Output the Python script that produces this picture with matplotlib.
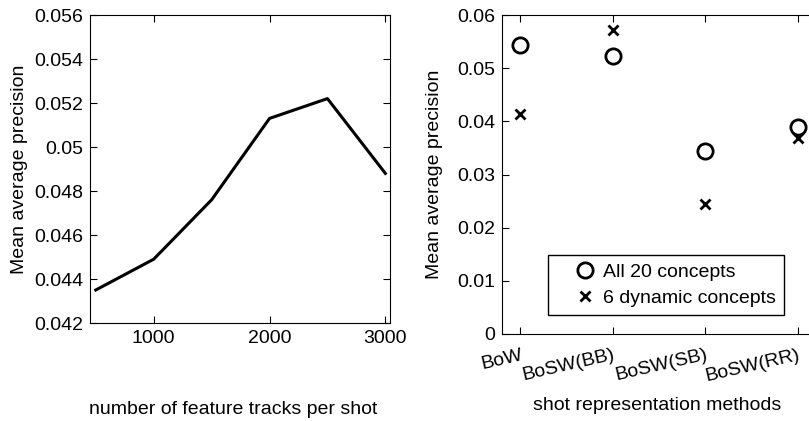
import matplotlib
matplotlib.use("Agg")
import matplotlib.pyplot as plt
from matplotlib.legend_handler import HandlerLine2D

plt.rcParams['font.family'] = ['Liberation Sans', 'DejaVu Sans']

tracks = [500, 1000, 1500, 2000, 2500, 3000]
map_tracks = [0.0435, 0.0449, 0.0476, 0.0513, 0.0522, 0.0488]

methods = ['BoW', 'BoSW(BB)', 'BoSW(SB)', 'BoSW(RR)']
all20 = [0.0543, 0.0522, 0.0345, 0.0389]
dyn6 = [0.0413, 0.0572, 0.0244, 0.0369]

W, H = 809, 421
fig = plt.figure(figsize=(W/100, H/100), dpi=100)

def ax_rect(l, r, t, b):
    return [l/W, 1 - b/H, (r - l)/W, (b - t)/H]


class RightMarker(HandlerLine2D):
    """Legend handler that places the marker near the right of the handle box."""
    def create_artists(self, legend, orig_handle, xdescent, ydescent, width,
                       height, fontsize, trans):
        arts = super().create_artists(legend, orig_handle, xdescent, ydescent,
                                      width, height, fontsize, trans)
        for a in arts:
            yd = a.get_ydata()
            a.set_xdata([width - 5 - xdescent] * len(yd))
        return arts


fs = 14
ax1 = fig.add_axes(ax_rect(90, 390, 15, 323))
ax1.plot(tracks, map_tracks, color='black', lw=2.2)
ax1.set_xlim(450, 3040)
ax1.set_ylim(0.042, 0.056)
ax1.set_xticks([1000, 2000, 3000])
ax1.set_yticks([0.042, 0.044, 0.046, 0.048, 0.05, 0.052, 0.054, 0.056])
ax1.set_yticklabels(['0.042', '0.044', '0.046', '0.048', '0.05', '0.052', '0.054', '0.056'])
ax1.tick_params(direction='in', top=True, right=True, labelsize=fs, length=5, pad=5)
ax1.set_ylabel('Mean average precision', fontsize=fs)
ax1.yaxis.set_label_coords((28 - 90)/300, 0.5)
fig.text(233/W, 1 - 410/H, 'number of feature tracks per shot', ha='center', va='center', fontsize=fs)

ax2 = fig.add_axes(ax_rect(502, 816, 15, 334))
xs = list(range(1, len(methods) + 1))
h1, = ax2.plot(xs, all20, linestyle='none', marker='o', markersize=11, markerfacecolor='none',
               markeredgecolor='black', markeredgewidth=2, label='All 20 concepts')
h2, = ax2.plot(xs, dyn6, linestyle='none', marker='x', markersize=7,
               markeredgecolor='black', markeredgewidth=2, label='6 dynamic concepts')
ax2.set_xlim(0.8, 4.2)
ax2.set_ylim(0, 0.06)
ax2.set_xticks(xs)
ax2.set_xticklabels(methods, rotation=13, ha='right', rotation_mode='anchor')
ax2.set_yticks([0, 0.01, 0.02, 0.03, 0.04, 0.05, 0.06])
ax2.set_yticklabels(['0', '0.01', '0.02', '0.03', '0.04', '0.05', '0.06'])
ax2.tick_params(direction='in', top=True, right=True, labelsize=fs, length=5, pad=5)
ax2.tick_params(axis='x', pad=9)
ax2.set_ylabel('Mean average precision', fontsize=fs)
ax2.yaxis.set_label_coords((443 - 502)/314, 0.5)
leg = ax2.legend(handles=[h1, h2], loc='lower left',
                 bbox_to_anchor=((548 - 502)/314, (334 - 315)/319),
                 borderaxespad=0, fontsize=fs, frameon=True, fancybox=False,
                 edgecolor='black', framealpha=1, handletextpad=0.57,
                 borderpad=0.4, labelspacing=0.45, handlelength=1.86,
                 handler_map={h1: RightMarker(numpoints=1), h2: RightMarker(numpoints=1)})
leg.get_frame().set_linewidth(1)
fig.text(657/W, 1 - 406/H, 'shot representation methods', ha='center', va='center', fontsize=fs)

fig.savefig('out.png', dpi=100)
